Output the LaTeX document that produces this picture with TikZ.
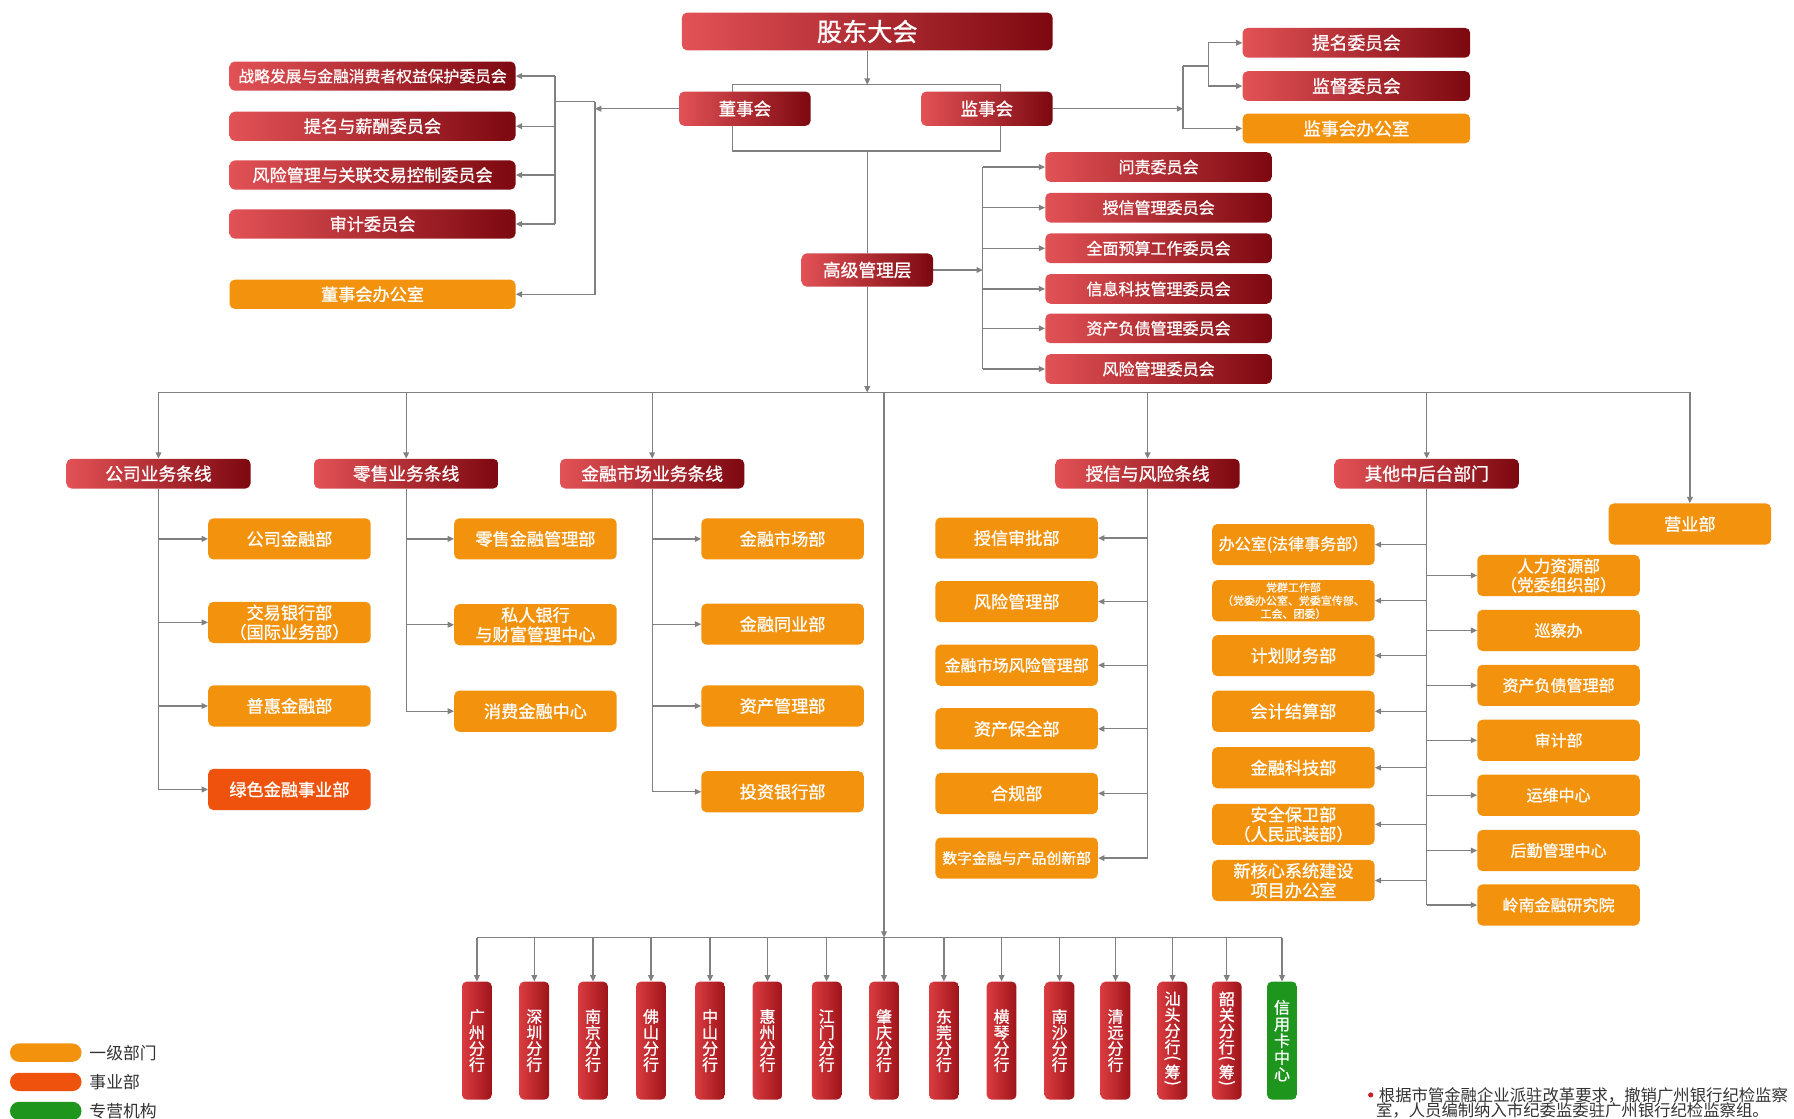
\documentclass[tikz,border=0pt]{standalone}
\usepackage{fontspec}
\newfontfamily\cjk{Noto Sans CJK SC}
\newfontfamily\cjkb{Noto Sans CJK SC}[FakeBold=1.0]
\usetikzlibrary{arrows.meta}
\definecolor{rA}{RGB}{226,82,86}
\definecolor{rM}{RGB}{194,38,46}
\definecolor{rB}{RGB}{125,8,16}
\definecolor{orgC}{RGB}{243,146,12}
\definecolor{grnC}{RGB}{30,150,30}
\definecolor{ored}{RGB}{238,82,12}
\definecolor{bA}{RGB}{218,60,64}
\definecolor{bB}{RGB}{158,20,26}
\definecolor{lc}{RGB}{128,128,128}
\definecolor{txtC}{RGB}{50,50,50}
\definecolor{bul}{RGB}{200,30,40}
\pgfdeclarelayer{bg}
\pgfsetlayers{bg,main}
\newcommand\fsz[2]{\cjkb\fontsize{#1}{#2}\selectfont}
\newcommand\fsr[2]{\cjk\fontsize{#1}{#2}\selectfont}
\newcommand\vlp{\raisebox{8pt}{\rotatebox{-90}{(}}}
\newcommand\vrp{\raisebox{8pt}{\rotatebox{-90}{)}}}
\begin{document}
\begin{tikzpicture}[x=1pt,y=-1pt,
  ln/.style={draw=lc,line width=1.1pt},
  ar/.style={ln,-{Triangle[length=5.5pt,width=5pt]}},
  bx/.style={rounded corners=4.5pt,inner sep=0pt,text=white,align=center},
  rbox/.style={bx,left color=rA,middle color=rM,right color=rB},
  obox/.style={bx,fill=orgC},
  gL/.style={minimum width=250pt,minimum height=25.5pt,font=\fsz{15}{18}},
  gT/.style={minimum width=199pt,minimum height=26pt,font=\fsz{15.5}{18}},
  gR/.style={minimum width=198pt,minimum height=26pt,font=\fsz{14}{17}},
  gB/.style={minimum width=161pt,minimum height=26pt,font=\fsz{15.5}{18}},
  gD/.style={minimum width=142pt,minimum height=36pt,font=\fsz{15}{17}},
  brn/.style={bx,rounded corners=4pt,left color=bA,right color=bB,minimum width=26pt,minimum height=103pt,font=\fsz{14}{14}},
  pill/.style={rounded corners=7.9pt,minimum width=62.5pt,minimum height=16pt,inner sep=0pt},
  lgt/.style={anchor=west,inner sep=0pt,font=\fsr{14.7}{17},text=txtC}
]
\useasboundingbox (0,0) rectangle (1568,978);

% top level
\node[rbox,minimum width=324pt,minimum height=33pt,font=\fsz{22}{26}] (gd) at (758,27.5) {股东大会};
\node[rbox,minimum width=115pt,minimum height=30pt,font=\fsz{15.3}{18}] (dsh) at (651,95) {董事会};
\node[rbox,minimum width=115pt,minimum height=30pt,font=\fsz{15.3}{18}] (jsh) at (862.5,95) {监事会};
\node[rbox,minimum width=115pt,minimum height=29pt,font=\fsz{15.5}{18}] (gj) at (758,236) {高级管理层};

% board committees
\node[rbox,gL,font=\fsz{13.8}{16}] (lc1) at (325.6,66.5) {战略发展与金融消费者权益保护委员会};
\node[rbox,gL] (lc2) at (325.6,110.3) {提名与薪酬委员会};
\node[rbox,gL] (lc3) at (325.6,153) {风险管理与关联交易控制委员会};
\node[rbox,gL] (lc4) at (325.6,195.8) {审计委员会};
\node[obox,gL] (lc5) at (325.6,257.2) {董事会办公室};

% supervisory committees
\node[rbox,gT] (rt1) at (1185.5,37.4) {提名委员会};
\node[rbox,gT] (rt2) at (1185.5,75.2) {监督委员会};
\node[obox,gT] (rt3) at (1185.5,112.3) {监事会办公室};

% management committees
\node[rbox,gR] (rc1) at (1012.6,146) {问责委员会};
\node[rbox,gR] (rc2) at (1012.6,181.5) {授信管理委员会};
\node[rbox,gR] (rc3) at (1012.6,217) {全面预算工作委员会};
\node[rbox,gR] (rc4) at (1012.6,252.5) {信息科技管理委员会};
\node[rbox,gR] (rc5) at (1012.6,287) {资产负债管理委员会};
\node[rbox,gR] (rc6) at (1012.6,322.5) {风险管理委员会};

% business lines
\node[rbox,gB] (bl1) at (138.5,414) {公司业务条线};
\node[rbox,gB] (bl2) at (355,414) {零售业务条线};
\node[rbox,gB] (bl3) at (570,414) {金融市场业务条线};
\node[rbox,gB] (bl4) at (1003,414) {授信与风险条线};
\node[rbox,gB] (bl5) at (1247,414) {其他中后台部门};
\node[obox,gD] (yyb) at (1477,458) {营业部};

% column 1
\node[obox,gD] (c1a) at (253,471) {公司金融部};
\node[obox,gD] (c1b) at (253,544) {交易银行部\\（国际业务部）};
\node[obox,gD] (c1c) at (253,617) {普惠金融部};
\node[bx,fill=ored,gD] (c1d) at (253,690) {绿色金融事业部};
% column 2
\node[obox,gD] (c2a) at (468,471) {零售金融管理部};
\node[obox,gD] (c2b) at (468,546) {私人银行\\与财富管理中心};
\node[obox,gD] (c2c) at (468,621.6) {消费金融中心};
% column 3
\node[obox,gD] (c3a) at (684,471) {金融市场部};
\node[obox,gD] (c3b) at (684,545.5) {金融同业部};
\node[obox,gD] (c3c) at (684,617) {资产管理部};
\node[obox,gD] (c3d) at (684,692) {投资银行部};
% column 4
\node[obox,gD] (c4a) at (888.6,470.3) {授信审批部};
\node[obox,gD] (c4b) at (888.6,525.8) {风险管理部};
\node[obox,gD,font=\fsz{14}{17}] (c4c) at (888.6,581.4) {金融市场风险管理部};
\node[obox,gD] (c4d) at (888.6,637) {资产保全部};
\node[obox,gD] (c4e) at (888.6,693.5) {合规部};
\node[obox,gD,font=\fsz{13}{16}] (c4f) at (888.6,750) {数字金融与产品创新部};
% column 5 left
\node[obox,gD,font=\fsz{14}{17}] (c5a) at (1130.5,476) {办公室(法律事务部）};
\node[obox,gD,font=\fsz{9.6}{11.5}] (c5b) at (1130.5,525) {党群工作部\\（党委办公室、党委宣传部、\\工会、团委）};
\node[obox,gD] (c5c) at (1130.5,573) {计划财务部};
\node[obox,gD] (c5d) at (1130.5,621.7) {会计结算部};
\node[obox,gD] (c5e) at (1130.5,671) {金融科技部};
\node[obox,gD] (c5f) at (1130.5,720.5) {安全保卫部\\（人民武装部）};
\node[obox,gD] (c5g) at (1130.5,769.6) {新核心系统建设\\项目办公室};
% column 5 right
\node[obox,gD,font=\fsz{14.5}{16.5}] (c6a) at (1362.2,503) {人力资源部\\（党委组织部）};
\node[obox,gD,font=\fsz{14}{17}] (c6b) at (1362.2,551) {巡察办};
\node[obox,gD,font=\fsz{14}{17}] (c6c) at (1362.2,599) {资产负债管理部};
\node[obox,gD,font=\fsz{14}{17}] (c6d) at (1362.2,647) {审计部};
\node[obox,gD,font=\fsz{14}{17}] (c6e) at (1362.2,695) {运维中心};
\node[obox,gD,font=\fsz{14}{17}] (c6f) at (1362.2,743.4) {后勤管理中心};
\node[obox,gD,font=\fsz{14}{17}] (c6g) at (1362.2,791) {岭南金融研究院};

% branches
\node[brn] (br1) at (416.8,909.5) {广\\州\\分\\行};
\node[brn] (br2) at (467,909.5) {深\\圳\\分\\行};
\node[brn] (br3) at (518.3,909.5) {南\\京\\分\\行};
\node[brn] (br4) at (569,909.5) {佛\\山\\分\\行};
\node[brn] (br5) at (620.6,909.5) {中\\山\\分\\行};
\node[brn] (br6) at (670.8,909.5) {惠\\州\\分\\行};
\node[brn] (br7) at (722.5,909.5) {江\\门\\分\\行};
\node[brn] (br8) at (772.7,909.5) {肇\\庆\\分\\行};
\node[brn] (br9) at (825,909.5) {东\\莞\\分\\行};
\node[brn] (br10) at (875.4,909.5) {横\\琴\\分\\行};
\node[brn] (br11) at (926.1,909.5) {南\\沙\\分\\行};
\node[brn] (br12) at (975,909.5) {清\\远\\分\\行};
\node[brn] (br13) at (1024.8,909.5) {汕\\头\\分\\行\\[-4pt]\vlp\\[-2pt]筹\\[-4pt]\vrp};
\node[brn] (br14) at (1072.2,909.5) {韶\\关\\分\\行\\[-4pt]\vlp\\[-2pt]筹\\[-4pt]\vrp};
\node[brn,left color=grnC,right color=grnC,font=\fsz{14}{14.6}] (br15) at (1120.5,909.5) {信\\用\\卡\\中\\心};

% legend
\node[pill,fill=orgC] (lg1) at (40,920) {};
\node[pill,fill=ored] (lg2) at (40,945.6) {};
\node[pill,fill=grnC] (lg3) at (40,971) {};
\node[lgt] (lt1) at (78,920) {一级部门};
\node[lgt] (lt2) at (78,945.6) {事业部};
\node[lgt] (lt3) at (78,970.8) {专营机构};

% footnote
\node[circle,fill=bul,inner sep=0pt,minimum size=4.5pt] (fnb) at (1198,957) {};
\node[anchor=west,inner sep=0pt,font=\fsr{14.3}{16},text=txtC] (fn1) at (1205,957) {根据市管金融企业派驻改革要求，撤销广州银行纪检监察};
\node[anchor=west,inner sep=0pt,font=\fsr{14.3}{16},text=txtC] (fn2) at (1202.5,970.2) {室，人员编制纳入市纪委监委驻广州银行纪检监察组。};

% connectors
\begin{pgfonlayer}{bg}
\coordinate (bTL) at (640,74);
\coordinate (bBR) at (874.5,132);
\coordinate (bTop) at (758,74);
\coordinate (bBot) at (758,132);
\draw[ln] (bTL) rectangle (bBR);
\draw[ar] (gd.south) -- (bTop);
\draw[ln] (bBot) -- (gj.north);
\coordinate (hL) at (758,343);
\coordinate (h1) at (138.5,343);
\coordinate (h2) at (1477,343);
\draw[ar] (gj.south) -- (hL);
\draw[ln] (h1) -- (h2);
% board side
\coordinate (lj) at (485,89);
\coordinate (lk) at (520,89);
\coordinate (dshL) at (520,95);
\draw[ar] (dsh.west) -- (dshL);
\draw[ln] (lk) -- (lj);
\draw[ar] (lk) -- (lk |- lc5) -- (lc5.east);
\draw[ln] (lj |- lc1) -- (lj |- lc4);
\foreach \n in {lc1,lc2,lc3,lc4} \draw[ar] (lj |- \n) -- (\n.east);
% supervisory side
\coordinate (rv1) at (1034,57.7);
\coordinate (rv2) at (1056,57.7);
\coordinate (jR) at (1034,95);
\draw[ar] (jsh.east) -- (jR);
\draw[ln] (rv1) -- (rv2);
\draw[ar] (rv1) -- (rv1 |- rt3) -- (rt3.west);
\draw[ln] (rv2 |- rt1) -- (rv2 |- rt2);
\foreach \n in {rt1,rt2} \draw[ar] (rv2 |- \n) -- (\n.west);
% management committees
\coordinate (rcv) at (859,236);
\draw[ar] (gj.east) -- (rcv);
\draw[ln] (rcv |- rc1) -- (rcv |- rc6);
\foreach \n in {rc1,rc2,rc3,rc4,rc5,rc6} \draw[ar] (rcv |- \n) -- (\n.west);
% business lines
\foreach \n in {bl1,bl2,bl3,bl4,bl5,yyb} \draw[ar] (\n |- h1) -- (\n.north);
\draw[ln] (bl1.south) -- (bl1 |- c1d);
\foreach \n in {c1a,c1b,c1c,c1d} \draw[ar] (bl1 |- \n) -- (\n.west);
\draw[ln] (bl2.south) -- (bl2 |- c2c);
\foreach \n in {c2a,c2b,c2c} \draw[ar] (bl2 |- \n) -- (\n.west);
\draw[ln] (bl3.south) -- (bl3 |- c3d);
\foreach \n in {c3a,c3b,c3c,c3d} \draw[ar] (bl3 |- \n) -- (\n.west);
\draw[ln] (bl4.south) -- (bl4 |- c4f);
\foreach \n in {c4a,c4b,c4c,c4d,c4e,c4f} \draw[ar] (bl4 |- \n) -- (\n.east);
\draw[ln] (bl5.south) -- (bl5 |- c6g);
\foreach \n in {c5a,c5b,c5c,c5d,c5e,c5f,c5g} \draw[ar] (bl5 |- \n) -- (\n.east);
\foreach \n in {c6a,c6b,c6c,c6d,c6e,c6f,c6g} \draw[ar] (bl5 |- \n) -- (\n.west);
% branches
\coordinate (hB) at (772.7,343);
\coordinate (bH) at (772.7,819.5);
\draw[ar] (hB) -- (bH);
\draw[ln] (br1 |- bH) -- (br15 |- bH);
\foreach \n in {br1,br2,br3,br4,br5,br6,br7,br8,br9,br10,br11,br12,br13,br14,br15} \draw[ar] (\n |- bH) -- (\n.north);
\end{pgfonlayer}
\end{tikzpicture}
\end{document}
